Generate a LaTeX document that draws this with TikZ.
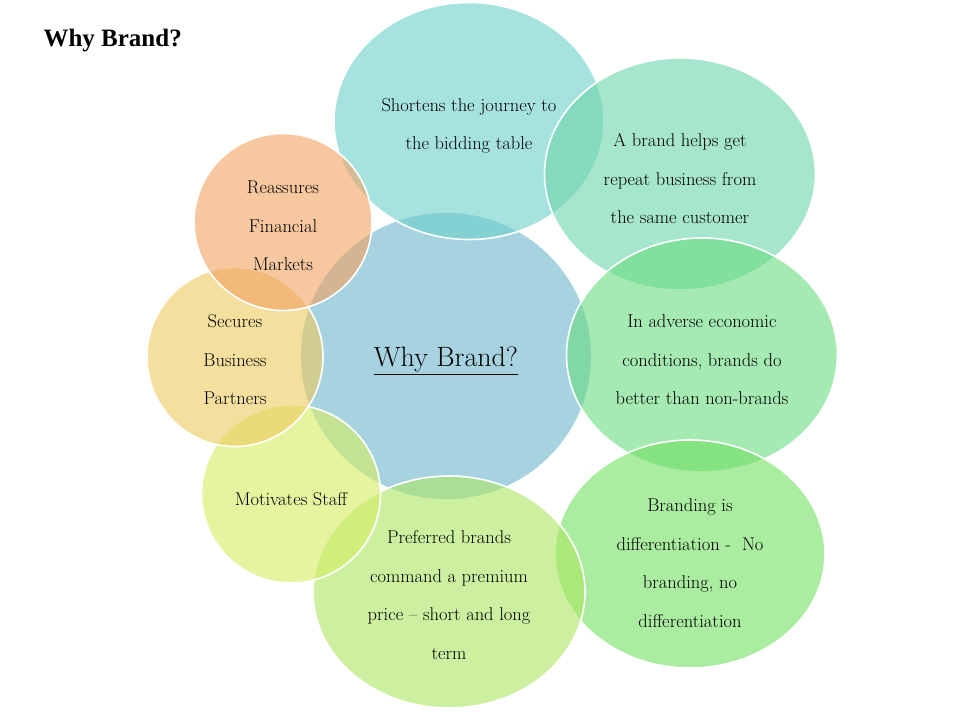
\documentclass[tikz,border=0pt]{standalone}
\usepackage{fontspec}
\usetikzlibrary{shapes.geometric}
\newfontfamily\headfont{Liberation Serif}

\definecolor{cCore}{RGB}{108,182,205}
\definecolor{cShort}{RGB}{107,208,202}
\definecolor{cRepeat}{RGB}{107,213,170}
\definecolor{cAdverse}{RGB}{105,220,127}
\definecolor{cDiffer}{RGB}{113,223,97}
\definecolor{cPremium}{RGB}{172,230,97}
\definecolor{cStaff}{RGB}{213,237,97}
\definecolor{cPartner}{RGB}{237,202,93}
\definecolor{cMarket}{RGB}{242,162,97}

\begin{document}
\begin{tikzpicture}[x=1pt,y=-1pt,
    bubble/.style={ellipse, draw=white, line width=1.6pt, fill opacity=0.6, inner sep=0pt},
    txt/.style={align=center, font=\fontsize{18.5}{38.5}\selectfont}]
    \useasboundingbox (0,0) rectangle (960,720);
    \node[anchor=west, font=\headfont\bfseries\fontsize{25}{28}\selectfont] (title) at (40,41) {Why Brand?};
    % bubbles, back to front
    \node[bubble, fill=cCore, minimum width=292pt, minimum height=288pt] (core) at (446,356) {};
    \node[bubble, fill=cShort, minimum width=270pt, minimum height=237pt] (short) at (469,121) {};
    \node[bubble, fill=cRepeat, minimum width=271pt, minimum height=232pt] (repeat) at (680,174) {};
    \node[bubble, fill=cAdverse, minimum width=271pt, minimum height=234pt] (adverse) at (702,355) {};
    \node[bubble, fill=cDiffer, minimum width=270pt, minimum height=228pt] (differ) at (690,554) {};
    \node[bubble, fill=cPremium, minimum width=272pt, minimum height=232pt] (premium) at (449,592) {};
    \node[bubble, fill=cStaff, minimum width=179pt, minimum height=178pt] (staff) at (291,494) {};
    \node[bubble, fill=cPartner, minimum width=176pt, minimum height=179pt] (partner) at (235,357) {};
    \node[bubble, fill=cMarket, minimum width=178pt, minimum height=177pt] (market) at (283,222) {};
    % texts
    \node[txt, font=\fontsize{28}{32}\selectfont] (coreT) at ([yshift=-5pt]core) {\underline{Why Brand?}};
    \node[txt] (shortT) at ([yshift=-5pt]short) {Shortens the journey to\\the bidding table};
    \node[txt] (repeatT) at ([yshift=-5pt]repeat) {A brand helps get\\repeat business from\\the same customer};
    \node[txt] (adverseT) at ([yshift=-5pt]adverse) {In adverse economic\\conditions, brands do\\better than non-brands};
    \node[txt] (differT) at ([yshift=-9pt]differ) {Branding is\\differentiation -\ \ No\\branding, no\\differentiation};
    \node[txt] (premiumT) at ([yshift=-3pt]premium) {Preferred brands\\command a premium\\price -- short and long\\term};
    \node[txt] (staffT) at ([yshift=-5pt]staff) {Motivates Staff};
    \node[txt] (partnerT) at ([yshift=-3pt]partner) {Secures\\Business\\Partners};
    \node[txt] (marketT) at ([yshift=-4pt]market) {Reassures\\Financial\\Markets};
\end{tikzpicture}
\end{document}
